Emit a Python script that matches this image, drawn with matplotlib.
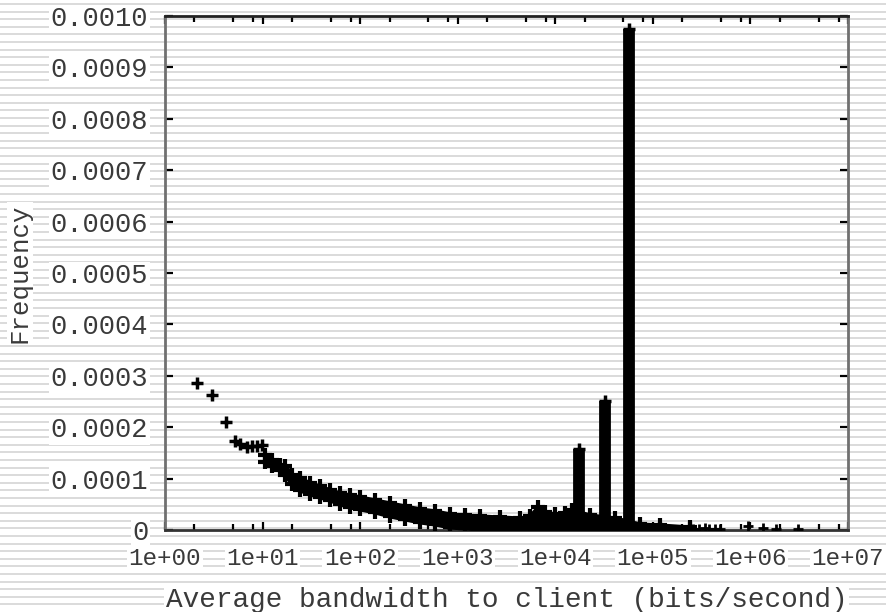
import numpy as np
import matplotlib.pyplot as plt
from matplotlib.lines import Line2D
from matplotlib.ticker import LogLocator, FuncFormatter, MultipleLocator

# Puntos aislados a bajo ancho de banda (bits/s, frecuencia)
bw_sparse = [2.13, 3.03, 4.22, 5.21, 5.87, 6.92, 7.79, 8.76, 9.86]
freq_sparse = [0.000286, 0.000263, 0.000210, 0.000173, 0.000167,
               0.000161, 0.000163, 0.000163, 0.000165]

# Banda densa de puntos: borde superior e inferior
bw_band = [10.6, 12.5, 15.1, 17.0, 20.0, 24.2, 30.6, 38.7, 49.0, 62.1,
           78.6, 99.5, 142, 202, 288, 410, 584, 832, 1185, 1690,
           2700, 4340, 5490, 6620, 7820, 9900, 12500, 14800, 22600,
           40800, 73600, 118000, 240000]
freq_top = [0.000146, 0.000136, 0.000126, 0.000125, 0.000107, 0.000101,
            0.0000914, 0.0000856, 0.0000778, 0.0000720, 0.0000681,
            0.0000642, 0.0000584, 0.0000525, 0.0000467, 0.0000409,
            0.0000370, 0.0000311, 0.0000292, 0.0000272, 0.0000253,
            0.0000233, 0.0000272, 0.0000447, 0.0000350, 0.0000311,
            0.0000331, 0.0000389, 0.0000292, 0.0000233, 0.0000117,
            0.0000097, 0.0000058]
freq_low = [0.000132, 0.000125, 0.000117, 0.000107, 0.0000895, 0.0000778,
            0.0000700, 0.0000642, 0.0000584, 0.0000506, 0.0000447,
            0.0000409, 0.0000350, 0.0000272, 0.0000214, 0.0000156,
            0.0000117, 0.0000058, 0.0000039, 0.0000020, 0.0000020,
            0.0000020, 0.0000020, 0.0000020, 0.0000020, 0.0000020,
            0.0000020, 0.0000020, 0.0000020, 0.0000020, 0.0000020,
            0.0000020, 0.0000020]

# Picos (columnas de puntos)
bw_peaks = [17500, 32200, 56800]
freq_peaks = [0.000158, 0.000251, 0.000975]

# Puntos dispersos a alto ancho de banda
bw_high = [260000, 300000, 340000, 380000, 430000, 490000, 940000,
           1350000, 1850000, 3100000]
freq_high = [0.000002, 0.000002, 0.000003, 0.000002, 0.000002, 0.000002,
             0.000008, 0.000003, 0.000002, 0.000002]

W, H = 887, 612
fig = plt.figure(figsize=(W / 100, H / 100), dpi=100)
fig.patch.set_facecolor("white")

# Rayado horizontal del fondo
for yp in np.arange(4.0, H, 7.6):
    fig.add_artist(Line2D([0, 1], [1 - yp / H] * 2, transform=fig.transFigure,
                          color="#d8d8d8", lw=1.3, zorder=-10))

ax = fig.add_axes([165 / W, 1 - 530 / H, (848 - 165) / W, (530 - 16) / H])
ax.set_facecolor("none")

ax.fill_between(bw_band, freq_low, freq_top, color="black", lw=3, zorder=3)
ax.plot(bw_band, freq_top, "+", color="black", ms=10, mew=3, zorder=3)
ax.plot(bw_band, freq_low, "+", color="black", ms=10, mew=3, zorder=3)
ax.vlines(bw_peaks, 0, freq_peaks, color="black", lw=8.5, zorder=3)
ax.plot(bw_peaks, freq_peaks, "+", color="black", ms=9, mew=2.5, zorder=3)
ax.plot(bw_sparse, freq_sparse, "+", color="black", ms=9, mew=2.5, zorder=3)
ax.plot(bw_high, freq_high, "+", color="black", ms=7, mew=2, zorder=3)

ax.set_xscale("log")
ax.set_xlim(1, 1e7)
ax.set_ylim(0, 0.001)
ax.xaxis.set_major_locator(LogLocator(base=10, numticks=10))
ax.xaxis.set_minor_locator(LogLocator(base=10, subs=(2, 5, 8), numticks=10))
ax.xaxis.set_major_formatter(FuncFormatter(lambda v, p: f"{v:.0e}"))
ax.yaxis.set_major_locator(MultipleLocator(0.0001))
ax.yaxis.set_major_formatter(
    FuncFormatter(lambda v, p: "0" if abs(v) < 1e-12 else f"{v:.4f}"))

font = "Liberation Mono"
ax.tick_params(axis="both", which="both", direction="in", top=True,
               right=True, colors="black", labelcolor="#3a3a3a")
ax.tick_params(which="major", length=6, width=1.6)
ax.tick_params(which="minor", length=4, width=1.6)
ax.tick_params(axis="x", pad=12)
ax.tick_params(axis="y", pad=12)
box = dict(facecolor="white", edgecolor="none", pad=1)
for lab in ax.get_xticklabels():
    lab.set_fontfamily(font)
    lab.set_fontsize(17.5)
    lab.set_bbox(box)
for lab in ax.get_yticklabels():
    lab.set_fontfamily(font)
    lab.set_fontsize(19.5)
    lab.set_bbox(box)

for side, col in [("left", "#707070"), ("right", "#707070"),
                  ("top", "#222222"), ("bottom", "#333333")]:
    ax.spines[side].set_color(col)
    ax.spines[side].set_linewidth(2)

ax.set_xlabel("Average bandwidth to client (bits/second)", fontfamily=font,
              fontsize=20, color="#3a3a3a", bbox=box)
ax.set_ylabel("Frequency", fontfamily=font, fontsize=18.5, color="#3a3a3a",
              bbox=box)
ax.xaxis.set_label_coords(0.5, -0.11)
ax.yaxis.set_label_coords(-0.195, 0.5)

fig.savefig("out.png", dpi=100)
